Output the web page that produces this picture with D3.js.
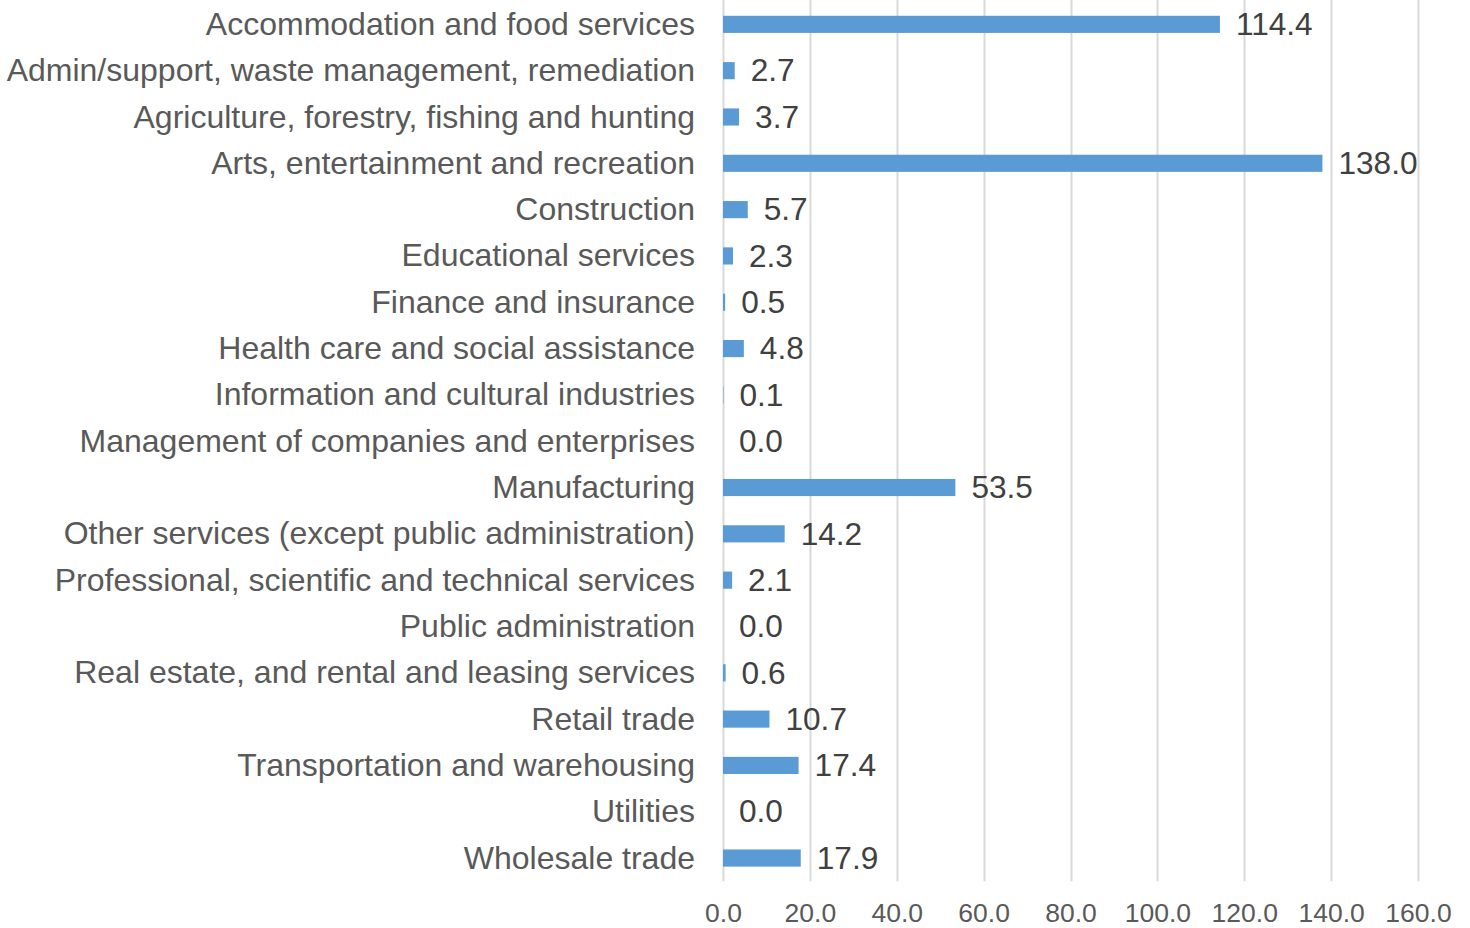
<!DOCTYPE html>
<html>
<head>
<meta charset="utf-8">
<script src="https://cdn.jsdelivr.net/npm/d3@7"></script>
<style>
html,body{margin:0;padding:0;background:#fff;}
svg{display:block;}
</style>
</head>
<body>
<svg id="chart" width="1470" height="928"></svg>
<script>
const categories = [
  "Accommodation and food services",
  "Admin/support, waste management, remediation",
  "Agriculture, forestry, fishing and hunting",
  "Arts, entertainment and recreation",
  "Construction",
  "Educational services",
  "Finance and insurance",
  "Health care and social assistance",
  "Information and cultural industries",
  "Management of companies and enterprises",
  "Manufacturing",
  "Other services (except public administration)",
  "Professional, scientific and technical services",
  "Public administration",
  "Real estate, and rental and leasing services",
  "Retail trade",
  "Transportation and warehousing",
  "Utilities",
  "Wholesale trade"
];
const values = [114.4, 2.7, 3.7, 138.0, 5.7, 2.3, 0.5, 4.8, 0.1, 0.0, 53.5, 14.2, 2.1, 0.0, 0.6, 10.7, 17.4, 0.0, 17.9];
const tickValues = [0, 20, 40, 60, 80, 100, 120, 140, 160];

const svg = d3.select("#chart");
const plotLeft = 723, plotRight = 1418, plotTop = 1.2, plotBottom = 881.2;

const x = d3.scaleLinear().domain([0, 160]).range([plotLeft, plotRight]);
const y = d3.scaleBand().domain(categories).range([plotTop, plotBottom]).paddingInner(0.63).paddingOuter(0.315);

// gridlines
svg.append("g").selectAll("line").data(tickValues).join("line")
  .attr("x1", d => Math.round(x(d)) + 0.5).attr("x2", d => Math.round(x(d)) + 0.5)
  .attr("y1", 0).attr("y2", plotBottom)
  .attr("stroke", "#d9d9d9").attr("stroke-width", 2);

// bars
svg.append("g").selectAll("rect").data(values).join("rect")
  .attr("x", x(0))
  .attr("y", (d, i) => y(categories[i]))
  .attr("width", d => Math.max(0, x(d) - x(0)))
  .attr("height", y.bandwidth())
  .attr("fill", "#5b9bd5");

// value labels
svg.append("g").selectAll("text").data(values).join("text")
  .attr("x", d => x(d) + 16)
  .attr("y", (d, i) => y(categories[i]) + y.bandwidth() / 2)
  .attr("dy", "0.34em")
  .attr("font-family", "'Liberation Sans', Arial, sans-serif")
  .attr("font-size", 31.6)
  .attr("fill", "#404040")
  .text(d => d.toFixed(1));

// category labels
const yAxis = d3.axisLeft(y).tickSize(0).tickPadding(28);
const gy = svg.append("g").attr("transform", `translate(${plotLeft},0)`).call(yAxis);
gy.select(".domain").remove();
gy.selectAll("text")
  .attr("font-family", "'Liberation Sans', Arial, sans-serif")
  .attr("font-size", 32)
  .attr("fill", "#595959")
  .attr("dy", "0.33em");

// x axis tick labels
const xAxis = d3.axisBottom(x).tickValues(tickValues).tickSize(0).tickPadding(0).tickFormat(d => d.toFixed(1));
const gx = svg.append("g").attr("transform", `translate(0,${plotBottom})`).call(xAxis);
gx.select(".domain").remove();
gx.selectAll("text")
  .attr("font-family", "'Liberation Sans Narrow', 'Arial Narrow', 'Liberation Sans', sans-serif")
  .attr("font-stretch", "condensed")
  .attr("font-size", 26.5)
  .attr("fill", "#595959")
  .attr("y", 31)
  .attr("dy", "0.36em");
</script>
</body>
</html>
